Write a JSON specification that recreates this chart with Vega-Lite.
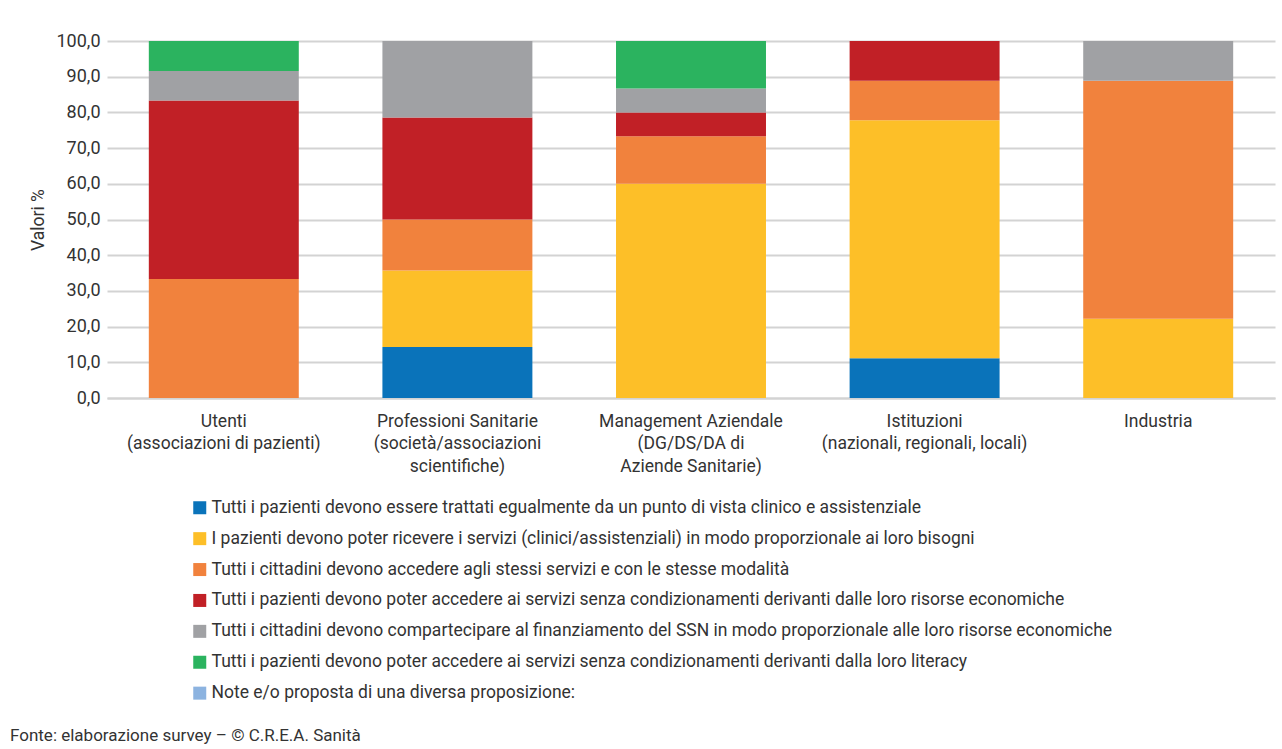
{
  "$schema": "https://vega.github.io/schema/vega-lite/v6.json",
  "autosize": {"type": "none"},
  "width": 1168,
  "height": 357,
  "padding": {"left": 107, "top": 41, "right": 7, "bottom": 351},
  "background": "white",
  "config": {
    "font": "Roboto",
    "view": {"stroke": null},
    "axis": {"labelFont": "Roboto", "titleFont": "Roboto", "labelColor": "#333", "titleColor": "#333"},
    "legend": {"labelFont": "Roboto"}
  },
  "title": {
    "text": "Fonte: elaborazione survey – © C.R.E.A. Sanità",
    "orient": "bottom",
    "anchor": "start",
    "frame": "group",
    "dx": -97,
    "offset": 26,
    "fontSize": 17,
    "fontWeight": "normal",
    "color": "#333",
    "font": "Roboto"
  },
  "data": {
    "values": [
      {"g": "Utenti|(associazioni di pazienti)", "k": 3, "v": 33.3},
      {"g": "Utenti|(associazioni di pazienti)", "k": 4, "v": 50.0},
      {"g": "Utenti|(associazioni di pazienti)", "k": 5, "v": 8.3},
      {"g": "Utenti|(associazioni di pazienti)", "k": 6, "v": 8.4},
      {"g": "Professioni Sanitarie|(società/associazioni|scientifiche)", "k": 1, "v": 14.3},
      {"g": "Professioni Sanitarie|(società/associazioni|scientifiche)", "k": 2, "v": 21.4},
      {"g": "Professioni Sanitarie|(società/associazioni|scientifiche)", "k": 3, "v": 14.3},
      {"g": "Professioni Sanitarie|(società/associazioni|scientifiche)", "k": 4, "v": 28.6},
      {"g": "Professioni Sanitarie|(società/associazioni|scientifiche)", "k": 5, "v": 21.4},
      {"g": "Management Aziendale|(DG/DS/DA di|Aziende Sanitarie)", "k": 2, "v": 60.0},
      {"g": "Management Aziendale|(DG/DS/DA di|Aziende Sanitarie)", "k": 3, "v": 13.3},
      {"g": "Management Aziendale|(DG/DS/DA di|Aziende Sanitarie)", "k": 4, "v": 6.7},
      {"g": "Management Aziendale|(DG/DS/DA di|Aziende Sanitarie)", "k": 5, "v": 6.7},
      {"g": "Management Aziendale|(DG/DS/DA di|Aziende Sanitarie)", "k": 6, "v": 13.3},
      {"g": "Istituzioni|(nazionali, regionali, locali)", "k": 1, "v": 11.1},
      {"g": "Istituzioni|(nazionali, regionali, locali)", "k": 2, "v": 66.7},
      {"g": "Istituzioni|(nazionali, regionali, locali)", "k": 3, "v": 11.1},
      {"g": "Istituzioni|(nazionali, regionali, locali)", "k": 4, "v": 11.1},
      {"g": "Industria", "k": 2, "v": 22.2},
      {"g": "Industria", "k": 3, "v": 66.7},
      {"g": "Industria", "k": 5, "v": 11.1}
    ]
  },
  "transform": [
    {"lookup": "k", "from": {"data": {"values": [
      {"k": 1, "s": "Tutti i pazienti devono essere trattati egualmente da un punto di vista clinico e assistenziale"},
      {"k": 2, "s": "I pazienti devono poter ricevere i servizi (clinici/assistenziali) in modo proporzionale ai loro bisogni"},
      {"k": 3, "s": "Tutti i cittadini devono accedere agli stessi servizi e con le stesse modalità"},
      {"k": 4, "s": "Tutti i pazienti devono poter accedere ai servizi senza condizionamenti derivanti dalle loro risorse economiche"},
      {"k": 5, "s": "Tutti i cittadini devono compartecipare al finanziamento del SSN in modo proporzionale alle loro risorse economiche"},
      {"k": 6, "s": "Tutti i pazienti devono poter accedere ai servizi senza condizionamenti derivanti dalla loro literacy"},
      {"k": 7, "s": "Note e/o proposta di una diversa proposizione:"}
    ]}, "key": "k", "fields": ["s"]}}
  ],
  "mark": {"type": "bar"},
  "encoding": {
    "x": {
      "field": "g",
      "type": "nominal",
      "sort": null,
      "scale": {"paddingInner": 0.358, "paddingOuter": 0.179},
      "axis": {
        "title": null,
        "labelAngle": 0,
        "labelExpr": "split(datum.label, '|')",
        "labelFontSize": 17.5,
        "labelLineHeight": 22.5,
        "labelPadding": 14,
        "labelBaseline": "top",
        "ticks": false,
        "domainColor": "#d3d3d3",
        "domainWidth": 2,
        "labelLimit": 300
      }
    },
    "y": {
      "field": "v",
      "type": "quantitative",
      "stack": "zero",
      "scale": {"domain": [0, 100], "nice": false},
      "axis": {
        "title": "Valori %",
        "titleFontSize": 17.5,
        "titleFontWeight": "normal",
        "titlePadding": 8,
        "values": [0, 10, 20, 30, 40, 50, 60, 70, 80, 90, 100],
        "labelExpr": "replace(format(datum.value, '.1f'), '.', ',')",
        "labelFontSize": 18,
        "labelPadding": 7,
        "ticks": false,
        "domain": false,
        "gridColor": "#d3d3d3",
        "gridWidth": 2
      }
    },
    "color": {
      "field": "s",
      "type": "nominal",
      "scale": {
        "domain": [
          "Tutti i pazienti devono essere trattati egualmente da un punto di vista clinico e assistenziale",
          "I pazienti devono poter ricevere i servizi (clinici/assistenziali) in modo proporzionale ai loro bisogni",
          "Tutti i cittadini devono accedere agli stessi servizi e con le stesse modalità",
          "Tutti i pazienti devono poter accedere ai servizi senza condizionamenti derivanti dalle loro risorse economiche",
          "Tutti i cittadini devono compartecipare al finanziamento del SSN in modo proporzionale alle loro risorse economiche",
          "Tutti i pazienti devono poter accedere ai servizi senza condizionamenti derivanti dalla loro literacy",
          "Note e/o proposta di una diversa proposizione:"
        ],
        "range": ["#0a73ba", "#fdbf28", "#f1823d", "#c12026", "#a0a1a4", "#2bb35f", "#8cb3e0"]
      },
      "legend": {
        "title": null,
        "orient": "none",
        "legendX": 84,
        "legendY": 458,
        "symbolType": "square",
        "symbolSize": 169,
        "symbolStrokeWidth": 0,
        "labelFontSize": 17.5,
        "labelColor": "#333",
        "labelLimit": 1000,
        "rowPadding": 11.9,
        "labelOffset": 3
      }
    },
    "order": {"field": "k", "type": "quantitative"}
  }
}
